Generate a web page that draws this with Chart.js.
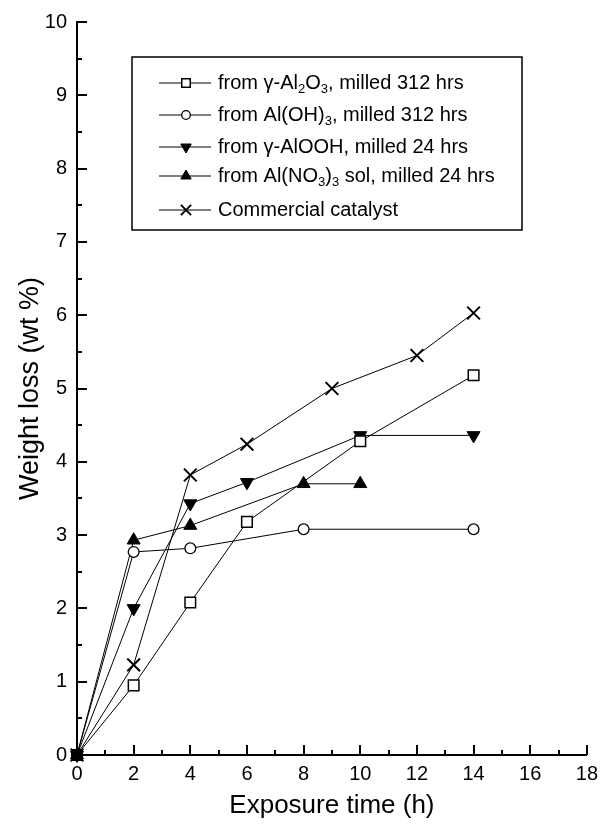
<!DOCTYPE html>
<html>
<head>
<meta charset="utf-8">
<script src="https://cdn.jsdelivr.net/npm/chart.js@4.4.1/dist/chart.umd.min.js"></script>
<style>
  html, body { margin: 0; padding: 0; background: #fff; }
  canvas { display: block; }
</style>
</head>
<body>
<canvas id="myChart" width="605" height="825"></canvas>
<script>
// exposure time (h) and weight loss (wt %) per sample
const timeAl2O3 = [0, 2, 4, 6, 10, 14];
const lossAl2O3 = [0, 0.95, 2.08, 3.18, 4.28, 5.18];

const timeAlOH3 = [0, 2, 4, 8, 14];
const lossAlOH3 = [0, 2.77, 2.82, 3.08, 3.08];

const timeAlOOH = [0, 2, 4, 6, 10, 14];
const lossAlOOH = [0, 2.0, 3.43, 3.72, 4.36, 4.36];

const timeAlNO3 = [0, 2, 4, 8, 10];
const lossAlNO3 = [0, 2.93, 3.13, 3.7, 3.7];

const timeCommercial = [0, 2, 4, 6, 9, 12, 14];
const lossCommercial = [0, 1.23, 3.82, 4.24, 5.0, 5.45, 6.03];

// legend labels, _{x} = subscript
const seriesLabels = [
    'from γ-Al_{2}O_{3}, milled 312 hrs',
    'from Al(OH)_{3}, milled 312 hrs',
    'from γ-AlOOH, milled 24 hrs',
    'from Al(NO_{3})_{3} sol, milled 24 hrs',
    'Commercial catalyst'
];

const xTitle = 'Exposure time (h)';
const yTitle = 'Weight loss (wt %)';
const xMin = 0, xMax = 18, xStep = 2;
const yMin = 0, yMax = 10, yStep = 1;

const FONT = "'Liberation Sans', Arial, sans-serif";
const ctx = document.getElementById('myChart').getContext('2d');

function toPoints(xs, ys) {
    return xs.map((x, i) => ({ x: x, y: ys[i] }));
}

function series(label, xs, ys, style) {
    return Object.assign({
        label: label,
        data: toPoints(xs, ys),
        showLine: true,
        clip: false,
        borderColor: '#000',
        borderWidth: 1,
        tension: 0,
        pointBorderColor: '#000',
        pointHoverRadius: 0
    }, style);
}

// open markers: the pile-up at the origin prints solid black
const openFill = (c) => c.dataIndex === 0 ? '#000' : '#fff';

const datasets = [
    series(seriesLabels[0], timeAl2O3, lossAl2O3, { pointStyle: 'rect', pointRadius: 7.5, pointBackgroundColor: openFill, legendFill: '#fff', pointBorderWidth: 1.5 }),
    series(seriesLabels[1], timeAlOH3, lossAlOH3, { pointStyle: 'circle', pointRadius: 5.4, pointBackgroundColor: openFill, legendFill: '#fff', pointBorderWidth: 1.3 }),
    series(seriesLabels[2], timeAlOOH, lossAlOOH, { pointStyle: 'triangle', pointRotation: 180, pointRadius: 7.5, pointBackgroundColor: '#000', legendFill: '#000', pointBorderWidth: 1 }),
    series(seriesLabels[3], timeAlNO3, lossAlNO3, { pointStyle: 'triangle', pointRadius: 7.5, pointBackgroundColor: '#000', legendFill: '#000', pointBorderWidth: 1 }),
    series(seriesLabels[4], timeCommercial, lossCommercial, { pointStyle: 'crossRot', pointRadius: 9, pointBackgroundColor: '#000', legendFill: '#000', pointBorderWidth: 2 })
];

// inward tick marks, major + minor
const innerTicks = {
    id: 'innerTicks',
    afterDraw(chart) {
        const c = chart.ctx;
        const xs = chart.scales.x, ys = chart.scales.y;
        const area = chart.chartArea;
        c.save();
        c.strokeStyle = '#000';
        c.lineWidth = 2;
        c.beginPath();
        for (let v = xMin; v <= xMax; v += xStep / 2) {
            const px = Math.round(xs.getPixelForValue(v));
            const len = (v % xStep === 0) ? 10 : 5;
            c.moveTo(px, area.bottom);
            c.lineTo(px, area.bottom - len);
        }
        for (let v = yMin; v <= yMax; v += yStep / 2) {
            const py = Math.round(ys.getPixelForValue(v));
            const len = (v % yStep === 0) ? 10 : 5;
            c.moveTo(area.left, py);
            c.lineTo(area.left + len, py);
        }
        c.stroke();
        c.restore();
    }
};

// boxed legend with subscripts
function drawRich(c, text, x, y) {
    const parts = text.split(/(_\{[^}]*\})/);
    for (const p of parts) {
        if (!p) continue;
        if (p.startsWith('_{')) {
            const s = p.slice(2, -1);
            c.font = '13px ' + FONT;
            c.fillText(s, x, y + 6);
            x += c.measureText(s).width;
        } else {
            c.font = '20px ' + FONT;
            c.fillText(p, x, y);
            x += c.measureText(p).width;
        }
    }
}

const boxLegend = {
    id: 'boxLegend',
    afterDraw(chart) {
        const c = chart.ctx;
        const box = { left: 132, top: 57, right: 522, bottom: 230 };
        const rowY = [83, 115, 147, 176, 210];
        c.save();
        c.strokeStyle = '#000';
        c.lineWidth = 1.5;
        c.strokeRect(box.left, box.top, box.right - box.left, box.bottom - box.top);
        chart.data.datasets.forEach((ds, i) => {
            const y = rowY[i];
            c.strokeStyle = '#000';
            c.lineWidth = 1;
            c.beginPath();
            c.moveTo(159, y);
            c.lineTo(211, y);
            c.stroke();
            c.fillStyle = ds.legendFill;
            c.strokeStyle = '#000';
            c.lineWidth = ds.pointBorderWidth;
            Chart.helpers.drawPoint(c, {
                pointStyle: ds.pointStyle,
                rotation: ds.pointRotation || 0,
                radius: ds.pointRadius * 0.8,
                borderWidth: ds.pointBorderWidth
            }, 186, y);
            c.fillStyle = '#000';
            c.textBaseline = 'middle';
            drawRich(c, ds.label, 218, y);
        });
        c.restore();
    }
};

new Chart(ctx, {
    type: 'scatter',
    data: { datasets: datasets },
    options: {
        responsive: false,
        animation: false,
        events: [],
        layout: { padding: { top: 17, right: 13, left: 0, bottom: 0 } },
        plugins: {
            legend: { display: false },
            tooltip: { enabled: false }
        },
        scales: {
            x: {
                type: 'linear',
                min: xMin,
                max: xMax,
                afterFit(scale) { scale.height = 70; },
                grid: { display: false, drawTicks: false },
                border: { display: true, color: '#000', width: 2 },
                ticks: { stepSize: xStep, color: '#000', padding: 7, font: { family: FONT, size: 20 } },
                title: { display: true, text: xTitle, color: '#000', padding: { top: 0, bottom: 4 }, font: { family: FONT, size: 26 } }
            },
            y: {
                type: 'linear',
                min: yMin,
                max: yMax,
                afterFit(scale) { scale.width = 77; },
                grid: { display: false, drawTicks: false },
                border: { display: true, color: '#000', width: 2 },
                ticks: { stepSize: yStep, color: '#000', padding: 10, font: { family: FONT, size: 20 } },
                title: { display: true, text: yTitle, color: '#000', padding: { top: 14, bottom: 0 }, font: { family: FONT, size: 27 } }
            }
        }
    },
    plugins: [innerTicks, boxLegend]
});
</script>
</body>
</html>
